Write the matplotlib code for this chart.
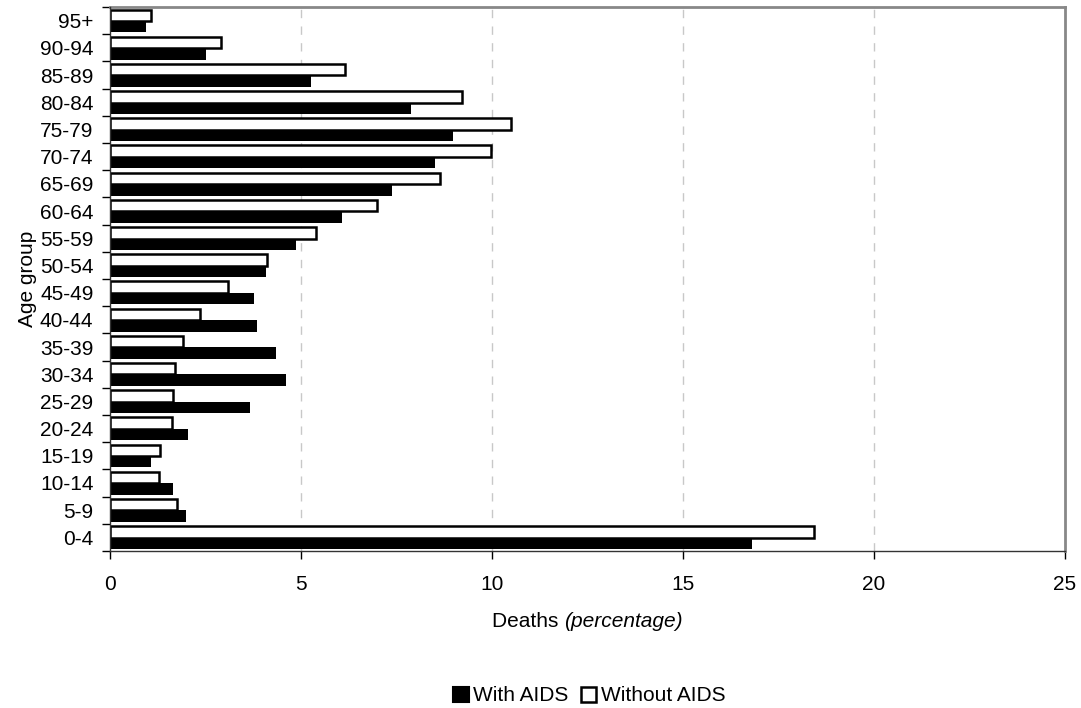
import matplotlib.pyplot as plt
import numpy as np
from matplotlib.patches import Patch

plt.rcParams["font.family"] = ["Liberation Sans", "DejaVu Sans"]

age_groups = ["0-4", "5-9", "10-14", "15-19", "20-24", "25-29", "30-34", "35-39",
              "40-44", "45-49", "50-54", "55-59", "60-64", "65-69", "70-74", "75-79",
              "80-84", "85-89", "90-94", "95+"]
with_aids = [16.81, 1.98, 1.66, 1.08, 2.04, 3.67, 4.60, 4.35, 3.86, 3.77,
             4.09, 4.87, 6.07, 7.39, 8.52, 8.97, 7.89, 5.27, 2.50, 0.94]
without_aids = [18.44, 1.75, 1.27, 1.32, 1.61, 1.66, 1.69, 1.91, 2.36, 3.09,
                4.10, 5.39, 7.00, 8.64, 9.98, 10.50, 9.22, 6.15, 2.91, 1.06]

fs = 15
fig = plt.figure(figsize=(10.81, 7.08), dpi=100)
ax = fig.add_axes([0.1018, 0.2218, 0.8834, 0.7682])

y = np.arange(len(age_groups))
bar_h = 0.42
ax.barh(y - 0.22, with_aids, height=bar_h, color="black", edgecolor="black",
        linewidth=0, zorder=3)
ax.barh(y + 0.2, without_aids, height=bar_h, color="white", edgecolor="black",
        linewidth=1.8, zorder=3)

ax.set_xlim(0, 25)
ax.set_ylim(-0.5, len(age_groups) - 0.5)
ax.set_xticks(np.arange(0, 26, 5))
ax.set_yticks(y, labels=age_groups)
ax.set_yticks(np.arange(-0.5, len(age_groups)), minor=True)
ax.tick_params(axis="y", which="major", length=0, pad=12, labelsize=fs)
ax.tick_params(axis="y", which="minor", length=6, width=1, direction="out")
ax.tick_params(axis="x", length=6, width=1, direction="out", pad=11, labelsize=fs)

for xv in [5, 10, 15, 20]:
    ax.axvline(xv, color="#c8c8c8", linewidth=1, linestyle=(0, (6, 6)), zorder=1)

for side in ["top", "right"]:
    ax.spines[side].set_color("#888888")
    ax.spines[side].set_linewidth(2)
for side in ["left", "bottom"]:
    ax.spines[side].set_color("#333333")
    ax.spines[side].set_linewidth(1)
    ax.spines[side].set_zorder(4)

ax.set_ylabel("Age group", fontsize=fs, labelpad=2)

# x label: "Deaths " upright + "(percentage)" italic, centred together
fig.canvas.draw()
renderer = fig.canvas.get_renderer()
t1 = fig.text(0, 0.114, "Deaths ", fontsize=fs, va="baseline")
t2 = fig.text(0, 0.114, "(percentage)", fontsize=fs, style="italic", va="baseline")
w1 = t1.get_window_extent(renderer).width / fig.bbox.width
w2 = t2.get_window_extent(renderer).width / fig.bbox.width
x0 = 0.5436 - (w1 + w2) / 2
t1.set_x(x0)
t2.set_x(x0 + w1)

handles = [Patch(facecolor="black", edgecolor="black", linewidth=1.5, label="With AIDS"),
           Patch(facecolor="white", edgecolor="black", linewidth=1.8, label="Without AIDS")]
fig.legend(handles=handles, loc="center", bbox_to_anchor=(0.545, 0.017), ncol=2,
           frameon=False, fontsize=fs, handlelength=0.75, handleheight=0.75,
           handletextpad=0.2, columnspacing=0.6)

fig.savefig("out.png", dpi=100)
